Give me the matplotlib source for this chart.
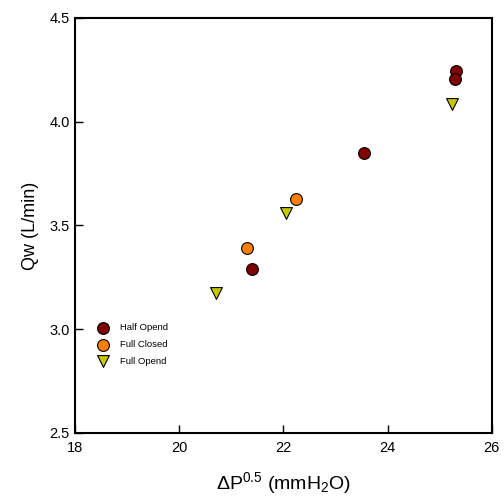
import matplotlib
matplotlib.use("Agg")
import matplotlib.pyplot as plt

plt.rcParams['font.family'] = ['Liberation Sans', 'DejaVu Sans']
plt.rcParams['mathtext.fontset'] = 'custom'
plt.rcParams['mathtext.rm'] = 'Liberation Sans'
plt.rcParams['mathtext.it'] = 'Liberation Sans'

half_x = [25.31, 25.30, 23.54, 21.40]
half_y = [4.246, 4.205, 3.848, 3.292]
closed_x = [22.25, 21.31]
closed_y = [3.626, 3.391]
full_x = [25.23, 22.05, 20.71]
full_y = [4.084, 3.559, 3.176]

xticks = [18, 20, 22, 24, 26]
yticks = [2.5, 3.0, 3.5, 4.0, 4.5]

fig = plt.figure(figsize=(5.04, 4.99), dpi=100)
ax = fig.add_axes([0.149, 0.1323, 0.8265, 0.8317])

ax.scatter(half_x, half_y, s=8.5**2, marker='o', c='#800000', edgecolors='black', linewidths=0.8, label='Half Opend', zorder=3)
ax.scatter(closed_x, closed_y, s=8.5**2, marker='o', c='#ff8000', edgecolors='black', linewidths=0.8, label='Full Closed', zorder=3)
ax.scatter(full_x, full_y, s=8.5**2, marker='v', c='#c8c800', edgecolors='black', linewidths=0.8, label='Full Opend', zorder=3)

ax.set_xlim(18, 26)
ax.set_ylim(2.5, 4.5)
ax.set_xticks(xticks)
ax.set_xticklabels([str(t) for t in xticks])
ax.set_yticks(yticks)
ax.set_yticklabels([f"{t:.1f}" for t in yticks])
ax.tick_params(direction='in', length=6, width=1, labelsize=10.5, pad=4)
ax.tick_params(axis='x', pad=6)
for sp in ax.spines.values():
    sp.set_linewidth(1.5)

ax.set_xlabel(r'$\Delta$P$^{0.5}$ (mmH$_2$O)', fontsize=14, labelpad=11)
ax.set_ylabel('Qw (L/min)', fontsize=13, labelpad=7)

leg = ax.legend(loc='upper left', bbox_to_anchor=(0.035, 0.273), frameon=False, fontsize=6.8,
                handletextpad=0.8, labelspacing=0.8, markerscale=1.0, borderaxespad=0.0)

fig.savefig('out.png', dpi=100)
